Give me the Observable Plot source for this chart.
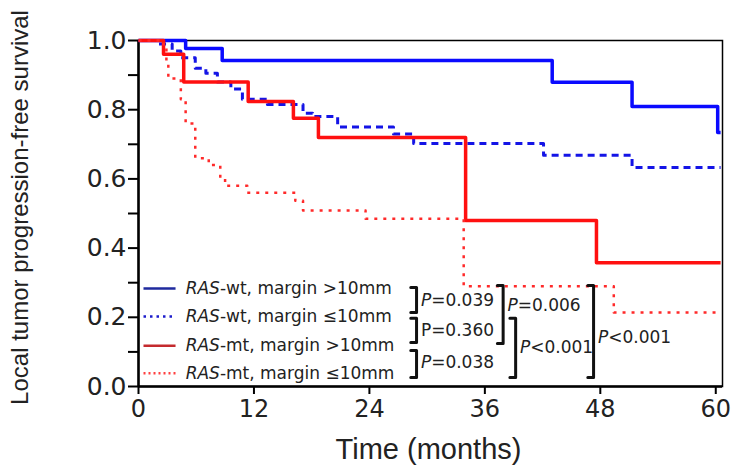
<!DOCTYPE html>
<html><head><meta charset="utf-8">
<script src="https://cdn.jsdelivr.net/npm/d3@7"></script>
<script src="https://cdn.jsdelivr.net/npm/@observablehq/plot@0.6"></script>
<style>body{margin:0;background:#fff}</style>
</head><body><div id="chart"></div>
<script>
// ---- data ----
const seriesNames = ["RAS-wt, margin >10mm", "RAS-wt, margin ≤10mm", "RAS-mt, margin >10mm", "RAS-mt, margin ≤10mm"];

const wtWideTime = [0, 4.9, 8.7, 43.0, 51.3, 60.2, 60.5];
const wtWideSurv = [1, 0.977, 0.942, 0.879, 0.809, 0.734, 0.734];

const wtNarrowTime = [0, 2.0, 3.5, 4.4, 5.9, 7.0, 8.2, 9.6, 10.8, 13.4, 17.1, 18.1, 20.7, 26.5, 28.6, 42.1, 51.3, 60.5];
const wtNarrowSurv = [1, 0.99, 0.97, 0.95, 0.92, 0.905, 0.88, 0.86, 0.83, 0.815, 0.79, 0.78, 0.75, 0.73, 0.702, 0.668, 0.633, 0.633];

const mtWideTime = [0, 2.6, 4.7, 11.4, 16.1, 18.7, 34.0, 47.6, 60.5];
const mtWideSurv = [1, 0.96, 0.88, 0.824, 0.775, 0.72, 0.48, 0.358, 0.358];

const mtNarrowTime = [0, 2.6, 2.9, 3.1, 4.4, 4.9, 5.9, 7.3, 8.5, 9.0, 11.3, 16.3, 17.1, 23.6, 33.8, 49.4, 60.5];
const mtNarrowSurv = [1, 0.98, 0.94, 0.89, 0.83, 0.76, 0.66, 0.64, 0.60, 0.58, 0.56, 0.537, 0.509, 0.485, 0.29, 0.214, 0.214];

const xTicks = [0, 12, 24, 36, 48, 60];
const yTicks = [0, 0.1, 0.2, 0.3, 0.4, 0.5, 0.6, 0.7, 0.8, 0.9, 1.0];

const pLabels = ["P=0.039", "P=0.360", "P=0.038", "P=0.006", "P<0.001", "P<0.001"];
const pItalic = [true, false, true, true, true, true];

// ---- build tables ----
const toRows = (t, s) => t.map((d, i) => ({time: d, surv: s[i]}));
const curves = [
  {rows: toRows(wtWideTime, wtWideSurv), stroke: "#0a0aff", width: 3.5, dash: null},
  {rows: toRows(wtNarrowTime, wtNarrowSurv), stroke: "#1414e6", width: 3, dash: "7,5"},
  {rows: toRows(mtWideTime, mtWideSurv), stroke: "#ff1010", width: 3.5, dash: null},
  {rows: toRows(mtNarrowTime, mtNarrowSurv), stroke: "#ff2a2a", width: 2.5, dash: "3,6"}
];

// layout of the in-plot legend and brackets (in data units)
const legendY = [0.283, 0.202, 0.118, 0.038];
const legendStroke = ["#1f2a9e", "#1c1ccc", "#c42a2e", "#ff4040"];
const legendDash = [null, "2.5,4", null, "2,3"];
const legendRows = seriesNames.map((name, i) => ({name, i, y: legendY[i]}));

const bracketX = [28.9, 28.9, 28.9, 37.9, 39.2, 47.3];
const bracketTop = [0.286, 0.197, 0.104, 0.292, 0.197, 0.292];
const bracketBot = [0.214, 0.127, 0.026, 0.124, 0.026, 0.026];
const labelY = [0.249, 0.162, 0.069, 0.234, 0.113, 0.142];
const arm = 0.6;
const bracketPaths = [];
pLabels.forEach((p, i) => {
  const x = bracketX[i];
  bracketPaths.push({k: i, x: x - arm, y: bracketTop[i]}, {k: i, x, y: bracketTop[i]},
                    {k: i, x, y: bracketBot[i]}, {k: i, x: x - arm, y: bracketBot[i]});
});
const pTexts = pLabels.map((p, i) => ({p, i, x: bracketX[i] + 0.45, y: labelY[i]}));

const marks = [
  Plot.frame({stroke: "black", strokeWidth: 1.5}),
  Plot.axisY(yTicks, {tickSize: 10, tickPadding: 2, strokeWidth: 2, fontSize: 25, fill: "#222",
    tickFormat: d => (Math.round(d * 10) % 2 === 0 ? d.toFixed(1) : ""), label: null}),
  Plot.axisX(xTicks, {tickSize: 8, tickPadding: 5, strokeWidth: 2, fontSize: 24, fill: "#222", label: null}),
  Plot.ruleX([0], {strokeWidth: 2.5}),
  Plot.ruleY([0], {strokeWidth: 2.5}),
  Plot.text(["Local tumor progression-free survival"], {text: d => d, frameAnchor: "left", textAnchor: "middle",
    dx: -118, dy: -6, rotate: -90, fontSize: 24, fontFamily: "Liberation Sans", fill: "#222"}),
  Plot.text(["Time (months)"], {text: d => d, frameAnchor: "bottom", dx: -2, dy: 72, fontSize: 29,
    fontFamily: "Liberation Sans", fill: "#222"})
];
curves.forEach(c => {
  marks.push(Plot.line(c.rows, {x: "time", y: "surv", curve: "step-after", stroke: c.stroke,
    strokeWidth: c.width, strokeDasharray: c.dash, strokeLinecap: "butt"}));
});
legendRows.forEach(r => {
  marks.push(Plot.link([r], {x1: 0.52, x2: 3.85, y1: "y", y2: "y", stroke: legendStroke[r.i],
    strokeWidth: 2.5, strokeDasharray: legendDash[r.i]}));
});
marks.push(Plot.text(legendRows, {x: 4.9, y: "y", text: "name", textAnchor: "start", fontSize: 17, fill: "#222"}));
marks.push(Plot.line(bracketPaths, {x: "x", y: "y", z: "k", stroke: "#111", strokeWidth: 3}));
marks.push(Plot.text(pTexts, {x: "x", y: "y", text: "p", textAnchor: "start", fontSize: 17, fill: "#222"}));

const chart = Plot.plot({
  width: 740, height: 476,
  marginLeft: 138, marginRight: 18, marginTop: 40, marginBottom: 90,
  x: {domain: [0, 60.7]},
  y: {domain: [0, 1]},
  style: {fontFamily: "DejaVu Sans", background: "white", color: "black"},
  marks
});

// italicise "RAS" and the P of the p-values
chart.querySelectorAll("text").forEach(t => {
  const s = t.textContent;
  const ns = "http://www.w3.org/2000/svg";
  if (seriesNames.includes(s)) {
    t.textContent = "";
    const a = document.createElementNS(ns, "tspan");
    a.setAttribute("font-style", "italic"); a.textContent = "RAS";
    const b = document.createElementNS(ns, "tspan");
    b.textContent = s.slice(3);
    t.append(a, b);
  } else if (pLabels.includes(s) && pItalic[pLabels.indexOf(s)]) {
    t.textContent = "";
    const a = document.createElementNS(ns, "tspan");
    a.setAttribute("font-style", "italic"); a.textContent = "P";
    const b = document.createElementNS(ns, "tspan");
    b.textContent = s.slice(1);
    t.append(a, b);
  }
});
document.getElementById("chart").append(chart);
</script>
</body></html>
